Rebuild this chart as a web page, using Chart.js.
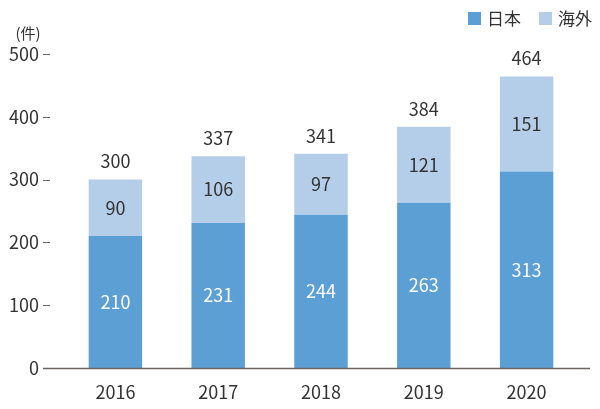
<!DOCTYPE html>
<html lang="ja">
<head>
  <meta charset="utf-8">
  <title>件数推移</title>
  <script src="https://cdn.jsdelivr.net/npm/chart.js@4.4.0/dist/chart.umd.min.js"></script>
  <style>
    html, body { margin: 0; padding: 0; background: #fff; }
    #wrap { width: 600px; height: 409px; }
  </style>
</head>
<body>
<div id="wrap"><canvas id="chart"></canvas></div>
<script>
  const years = ['2016', '2017', '2018', '2019', '2020'];
  const japan = [210, 231, 244, 263, 313];
  const overseas = [90, 106, 97, 121, 151];
  const totals = [300, 337, 341, 384, 464];
  const yTicks = [0, 100, 200, 300, 400, 500];

  const COLORS = {
    japan: '#5b9fd4',
    overseas: '#b4cde8',
    text: '#333333',
    axis: '#6b6461'
  };
  const FONT = '"Noto Sans CJK JP", "Noto Sans", sans-serif';

  // tick marks, baseline, unit label, legend and numbers on the bars
  const decorations = {
    id: 'decorations',
    afterDatasetsDraw(chart) {
      const ctx = chart.ctx;
      const y = chart.scales.y;
      ctx.save();
      ctx.strokeStyle = COLORS.axis;
      ctx.lineWidth = 1;
      yTicks.forEach(function (v) {
        if (v === 0) return;
        const py = Math.round(y.getPixelForValue(v)) + 0.5;
        ctx.beginPath();
        ctx.moveTo(43, py);
        ctx.lineTo(50, py);
        ctx.stroke();
      });
      const by = Math.round(y.getPixelForValue(0)) + 0.5;
      ctx.lineWidth = 1.5;
      ctx.beginPath();
      ctx.moveTo(43, by);
      ctx.lineTo(590, by);
      ctx.stroke();

      ctx.textBaseline = 'middle';
      ctx.fillStyle = COLORS.text;
      ctx.textAlign = 'center';
      ctx.font = '15px ' + FONT;
      ctx.fillText('(件)', 28, 33);

      // legend, right aligned
      ctx.font = '17px ' + FONT;
      ctx.textAlign = 'left';
      let lx = 592;
      const items = chart.data.datasets.slice().reverse();
      items.forEach(function (ds) {
        const w = ctx.measureText(ds.label).width;
        lx -= w;
        ctx.fillStyle = COLORS.text;
        ctx.fillText(ds.label, lx, 19);
        lx -= 6 + 13;
        ctx.fillStyle = ds.backgroundColor;
        ctx.fillRect(lx, 12, 13, 13);
        lx -= 18;
      });

      ctx.font = '18px ' + FONT;
      ctx.textAlign = 'center';
      const m0 = chart.getDatasetMeta(0);
      const m1 = chart.getDatasetMeta(1);
      m0.data.forEach(function (bar, i) {
        ctx.fillStyle = '#ffffff';
        ctx.fillText(String(japan[i]), bar.x, (bar.y + bar.base) / 2);
      });
      m1.data.forEach(function (bar, i) {
        ctx.fillStyle = COLORS.text;
        ctx.fillText(String(overseas[i]), bar.x, (bar.y + bar.base) / 2);
        ctx.fillText(String(totals[i]), bar.x, bar.y - 18);
      });
      ctx.restore();
    }
  };

  new Chart(document.getElementById('chart'), {
    type: 'bar',
    data: {
      labels: years,
      datasets: [
        { label: '日本', data: japan, backgroundColor: COLORS.japan, barPercentage: 0.52, categoryPercentage: 1 },
        { label: '海外', data: overseas, backgroundColor: COLORS.overseas, barPercentage: 0.52, categoryPercentage: 1 }
      ]
    },
    options: {
      responsive: true,
      maintainAspectRatio: false,
      animation: false,
      layout: { padding: { left: 0, right: 22, top: 54, bottom: 0 } },
      plugins: {
        tooltip: { enabled: false },
        legend: { display: false }
      },
      scales: {
        x: {
          stacked: true,
          afterFit: function (scale) { scale.height = 41; },
          grid: { display: false, drawTicks: false },
          border: { display: false },
          ticks: { color: COLORS.text, padding: 13, maxRotation: 0, font: { size: 18, family: FONT } }
        },
        y: {
          stacked: true,
          min: 0,
          max: 500,
          afterFit: function (scale) { scale.width = 64; },
          afterBuildTicks: function (scale) {
            scale.ticks = yTicks.map(function (v) { return { value: v }; });
          },
          grid: { display: false, drawTicks: false },
          border: { display: false },
          ticks: { color: COLORS.text, padding: 25, font: { size: 18, family: FONT } }
        }
      }
    },
    plugins: [decorations]
  });
</script>
</body>
</html>
